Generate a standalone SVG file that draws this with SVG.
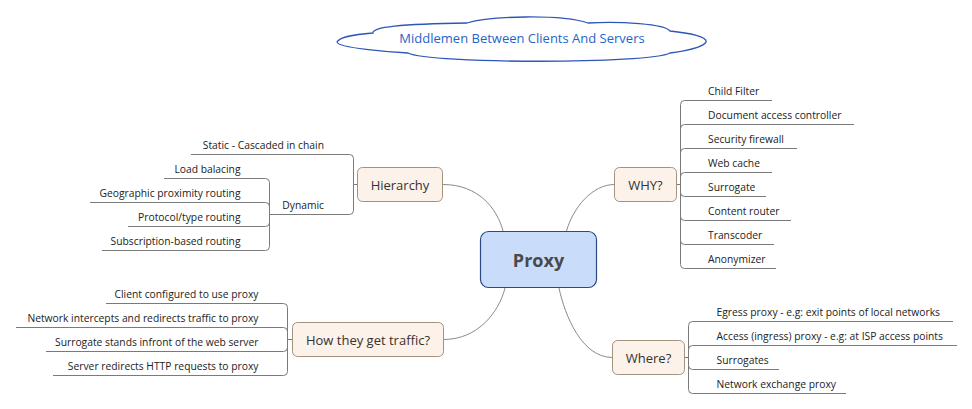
<svg xmlns="http://www.w3.org/2000/svg" width="972" height="409" viewBox="0 0 972 409">
<style>
.bg{fill:#ffffff}
.topic rect{fill:#fdf2e9;stroke:#a39282;stroke-width:1}
.topic text{font-family:"Open Sans","Noto Sans",sans-serif;font-size:13px;fill:#333333;text-anchor:middle}
.leaf{font-family:"Open Sans","Noto Sans",sans-serif;font-size:10.3px;fill:#222222}
.le{text-anchor:end}
.conn path{fill:none;stroke:#8a8a8a;stroke-width:1}
.lines path{fill:none;stroke:#7a7a7a;stroke-width:1}
</style>
<rect class="bg" x="0" y="0" width="972" height="409"/>

<g id="title">
<path d="M337,42 C340,36 360,34 373,33 C372,27 400,24 467,23 C490,16 560,14 588,23 C620,21 665,24 670,31 C690,33 708,37 706,42 C704,47 685,51 670,53 C650,64 430,64 408,53 C390,52 338,48 337,42 Z" fill="#ffffff" stroke="#2e56b8" stroke-width="1.3"/>
<text x="522" y="43.3" font-family="'Open Sans','Noto Sans',sans-serif" font-size="13" fill="#1f65c8" text-anchor="middle">Middlemen Between Clients And Servers</text>
</g>

<g id="connectors" class="conn">
<path d="M443,184.5 C478,184.5 497,208 503,231"/>
<path d="M566.5,231 C573,208 592,184.5 614.5,184.5"/>
<path d="M505,288 C499,312 478,339.5 443.5,339.5"/>
<path d="M559,288 C565,316 582,357.5 612.5,357.5"/>
</g>

<g id="branch-lines" class="lines">
<!-- Hierarchy -->
<path d="M357.5,184.5 H353.5"/>
<path d="M353.5,184.5 V158.5 Q353.5,154.5 349.5,154.5 H191"/>
<path d="M353.5,184.5 V210.5 Q353.5,214.5 349.5,214.5 H269.5"/>
<path d="M269.5,214.5 V182.5 Q269.5,178.5 265.5,178.5 H164"/>
<path d="M269.5,214.5 V206.5 Q269.5,202.5 265.5,202.5 H90"/>
<path d="M269.5,214.5 V222.5 Q269.5,226.5 265.5,226.5 H128"/>
<path d="M269.5,214.5 V246.5 Q269.5,250.5 265.5,250.5 H102"/>
<!-- WHY -->
<path d="M676.5,184.5 H680.5"/>
<path d="M680.5,184.5 V104.5 Q680.5,100.5 684.5,100.5 H772"/>
<path d="M680.5,184.5 V128.5 Q680.5,124.5 684.5,124.5 H854"/>
<path d="M680.5,184.5 V152.5 Q680.5,148.5 684.5,148.5 H797"/>
<path d="M680.5,184.5 V176.5 Q680.5,172.5 684.5,172.5 H772"/>
<path d="M680.5,184.5 V192.5 Q680.5,196.5 684.5,196.5 H766"/>
<path d="M680.5,184.5 V216.5 Q680.5,220.5 684.5,220.5 H791"/>
<path d="M680.5,184.5 V240.5 Q680.5,244.5 684.5,244.5 H774"/>
<path d="M680.5,184.5 V264.5 Q680.5,268.5 684.5,268.5 H776"/>
<!-- How they get traffic -->
<path d="M292.5,339.5 H287.5"/>
<path d="M287.5,339.5 V307.5 Q287.5,303.5 283.5,303.5 H106"/>
<path d="M287.5,339.5 V331.5 Q287.5,327.5 283.5,327.5 H16"/>
<path d="M287.5,339.5 V347.5 Q287.5,351.5 283.5,351.5 H46"/>
<path d="M287.5,339.5 V371.5 Q287.5,375.5 283.5,375.5 H53"/>
<!-- Where -->
<path d="M684.5,357.5 H688.5"/>
<path d="M688.5,357.5 V325.5 Q688.5,321.5 692.5,321.5 H953"/>
<path d="M688.5,357.5 V349.5 Q688.5,345.5 692.5,345.5 H957"/>
<path d="M688.5,357.5 V365.5 Q688.5,369.5 692.5,369.5 H779"/>
<path d="M688.5,357.5 V389.5 Q688.5,393.5 692.5,393.5 H846"/>
</g>

<g id="proxy">
<rect x="480.5" y="231.5" width="116" height="56" rx="8" fill="#c9ddfb" stroke="#2d4a80" stroke-width="1.2"/>
<text x="538.5" y="267" font-family="'Open Sans','Noto Sans',sans-serif" font-size="18" font-weight="bold" fill="#4a4a4a" text-anchor="middle">Proxy</text>
</g>

<g id="hierarchy" class="topic">
<rect x="357.5" y="167.5" width="85" height="34" rx="5"/>
<text x="400" y="189.5">Hierarchy</text>
</g>
<g id="hierarchy-static"><text class="leaf le" x="324" y="148.5">Static - Cascaded in chain</text></g>
<g id="hierarchy-dynamic"><text class="leaf le" x="324" y="208.5">Dynamic</text></g>
<g id="dyn-load"><text class="leaf le" x="240.5" y="172.5">Load balacing</text></g>
<g id="dyn-geo"><text class="leaf le" x="240.5" y="196.5">Geographic proximity routing</text></g>
<g id="dyn-proto"><text class="leaf le" x="240.5" y="220.5">Protocol/type routing</text></g>
<g id="dyn-sub"><text class="leaf le" x="240.5" y="244.5">Subscription-based routing</text></g>

<g id="why" class="topic">
<rect x="614.5" y="167.5" width="62" height="34" rx="5"/>
<text x="645.5" y="189.5">WHY?</text>
</g>
<g id="why-1"><text class="leaf" x="708" y="94.5">Child Filter</text></g>
<g id="why-2"><text class="leaf" x="708" y="118.5">Document access controller</text></g>
<g id="why-3"><text class="leaf" x="708" y="142.5">Security firewall</text></g>
<g id="why-4"><text class="leaf" x="708" y="166.5">Web cache</text></g>
<g id="why-5"><text class="leaf" x="708" y="190.5">Surrogate</text></g>
<g id="why-6"><text class="leaf" x="708" y="214.5">Content router</text></g>
<g id="why-7"><text class="leaf" x="708" y="238.5">Transcoder</text></g>
<g id="why-8"><text class="leaf" x="708" y="262.5">Anonymizer</text></g>

<g id="traffic" class="topic">
<rect x="292.5" y="322.5" width="151" height="34" rx="5"/>
<text x="368" y="344.5">How they get traffic?</text>
</g>
<g id="traffic-1"><text class="leaf le" x="258.5" y="297.5">Client configured to use proxy</text></g>
<g id="traffic-2"><text class="leaf le" x="258.5" y="321.5">Network intercepts and redirects traffic to proxy</text></g>
<g id="traffic-3"><text class="leaf le" x="258.5" y="345.5">Surrogate stands infront of the web server</text></g>
<g id="traffic-4"><text class="leaf le" x="258.5" y="369.5">Server redirects HTTP requests to proxy</text></g>

<g id="where" class="topic">
<rect x="612.5" y="340.5" width="72" height="34" rx="5"/>
<text x="648.5" y="362.5">Where?</text>
</g>
<g id="where-1"><text class="leaf" x="716.5" y="315.5">Egress proxy - e.g: exit points of local networks</text></g>
<g id="where-2"><text class="leaf" x="716.5" y="339.5">Access (ingress) proxy - e.g: at ISP access points</text></g>
<g id="where-3"><text class="leaf" x="716.5" y="363.5">Surrogates</text></g>
<g id="where-4"><text class="leaf" x="716.5" y="387.5">Network exchange proxy</text></g>
</svg>
